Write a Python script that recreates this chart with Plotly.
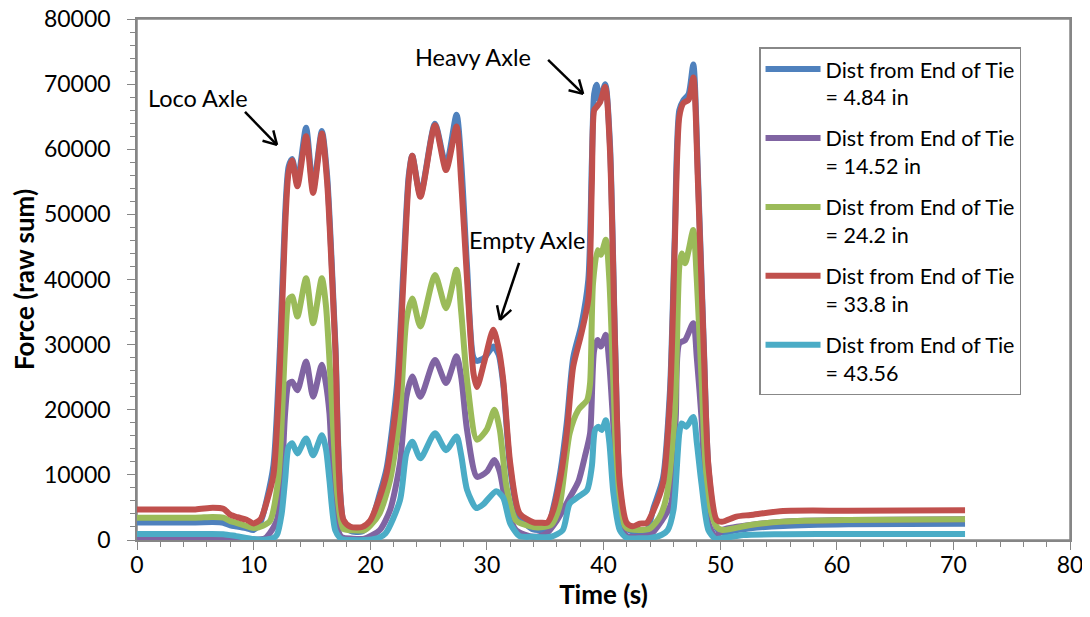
import math
import plotly.graph_objects as go

# ---------------- data ----------------
t_red = [0, 5, 6.5, 7.4, 8.0, 8.6, 9.4, 10.0, 10.6, 11.1, 11.7, 12.26, 12.7, 13.0, 13.3, 13.75,
         14.5, 15.1, 15.85, 16.3, 17.0, 17.7, 18.3, 19.3, 20.0, 20.8, 21.4, 22.3, 22.85, 23.3,
         23.6, 24.3, 25.55, 26.5, 27.4, 27.8, 28.3, 28.85, 29.15, 29.8, 30.55, 31.0, 31.4, 32.0,
         32.8, 34.0, 34.6, 35.2, 35.7, 36.3, 36.85, 37.4, 38.1, 38.7, 39.0, 39.2, 39.4, 39.7,
         40.15, 40.55, 41.0, 41.4, 42.0, 42.5, 43.1, 43.7, 44.3, 45.1, 45.7, 46.1, 46.5, 46.85,
         47.3, 47.7, 48.1, 48.6, 49.0, 49.7, 50.15, 51.4, 52.6, 55.4, 61, 71]
v_red = [4700, 4700, 4950, 4800, 3900, 3500, 3100, 2550, 3200, 5700, 10000, 27000, 48000, 56500,
         58300, 54300, 62000, 53300, 62400, 55000, 29700, 3100, 2050, 2000, 3000, 6500, 10200,
         22000, 40000, 55300, 59000, 52700, 63700, 56800, 63500, 55000, 40000, 25600, 23500,
         27500, 32300, 29500, 24600, 11800, 4100, 2700, 2650, 2700, 4600, 9500, 16400, 26600,
         31700, 37000, 54800, 66000, 66500, 67200, 69600, 60000, 29200, 8700, 2600, 2100, 2500,
         2600, 4600, 8700, 21500, 44500, 65000, 67100, 67600, 71000, 54800, 29200, 11300, 3100,
         2800, 3600, 3850, 4450, 4500, 4550]

t_blue = t_red
v_blue = [2700, 2700, 2750, 2650, 2250, 2050, 1800, 1540, 2800, 6000, 11500, 29700, 50000, 57300,
          58500, 55000, 63300, 54000, 62800, 56000, 30500, 2800, 1400, 1300, 2500, 7000, 11000,
          24000, 42000, 56000, 59000, 53000, 63900, 57500, 65300, 58000, 42000, 28000, 27500,
          28000, 29700, 28500, 24000, 11000, 3500, 1600, 1540, 1800, 5000, 10500, 18000, 28000,
          33000, 40000, 58000, 68500, 69900, 67500, 70000, 61000, 30000, 8000, 1800, 1300, 1230,
          1400, 5000, 9500, 23000, 46000, 66000, 67500, 68500, 73000, 56000, 30000, 11000, 1800,
          1130, 1500, 1800, 2150, 2400, 2500]

t_green = [0, 5, 6.5, 7.4, 8.0, 8.6, 10.0, 10.8, 11.4, 12.1, 12.7, 13.0, 13.3, 13.75, 14.5, 15.1,
           15.85, 16.2, 16.6, 17.2, 17.7, 18.5, 19.5, 20.0, 20.8, 21.7, 22.55, 23.1, 23.6, 24.3,
           25.55, 26.5, 27.4, 27.8, 28.3, 29.15, 30.0, 30.65, 31.1, 31.7, 32.5, 34.0, 34.6, 35.5,
           36.2, 37.1, 37.85, 38.6, 38.85, 39.1, 39.5, 39.77, 40.2, 40.5, 40.85, 41.4, 42.0, 43.0,
           44.0, 44.8, 45.4, 46.1, 46.5, 46.7, 47.0, 47.3, 47.7, 48.0, 48.4, 49.0, 49.7, 50.2,
           52.6, 55.4, 61, 71]
v_green = [3430, 3430, 3550, 3450, 2900, 2600, 1850, 2200, 2900, 9200, 29700, 36900, 37400, 34300,
           40200, 33300, 40200, 36000, 24600, 6650, 1700, 1500, 1500, 2200, 4100, 9200, 19500,
           33800, 37100, 32800, 40700, 35600, 41500, 35000, 24600, 15400, 17000, 20000, 17000,
           8000, 3000, 2000, 1950, 2300, 5000, 16400, 20000, 21500, 24100, 39400, 44500, 43800,
           46100, 40000, 24100, 4600, 1800, 1540, 1800, 3500, 6650, 18900, 42000, 44000, 42500,
           44500, 47600, 40000, 25000, 6100, 2000, 1540, 2300, 2820, 3070, 3200]

t_purple = [0, 7.4, 8.5, 10, 11.0, 11.4, 12.0, 12.4, 12.7, 13.0, 13.3, 13.75, 14.5, 15.1, 15.85,
            16.2, 16.5, 17.0, 17.5, 18.5, 19.5, 20.8, 21.7, 22.55, 23.1, 23.6, 24.3, 25.55, 26.5,
            27.4, 27.8, 28.3, 29.15, 30.0, 30.65, 31.1, 31.7, 32.5, 34.0, 35.1, 36.0, 37.1,
            37.85, 38.4, 38.85, 39.2, 39.5, 39.77, 40.2, 40.5, 40.8, 41.4, 42.0, 43.0, 44.0,
            45.0, 45.8, 46.2, 46.5, 47.0, 47.7, 48.0, 48.4, 49.0, 49.6, 50.2, 52.6, 55.4, 61, 71]
v_purple = [260, 260, 200, 50, 300, 1070, 3070, 9000, 19500, 24000, 24300, 23000, 27400, 22000,
            26900, 24000, 19500, 4100, 500, 200, 200, 1500, 4600, 11800, 22000, 25100, 22000,
            27650, 24100, 28200, 25000, 16900, 9700, 10500, 12300, 10500, 5000, 1500, 500, 1000,
            3000, 6500, 9000, 12800, 16400, 29200, 30700, 29700, 31500, 27000, 18900, 2600, 600,
            500, 800, 3000, 5600, 18900, 30200, 30700, 33300, 28000, 18900, 2600, 500, 1540,
            2300, 2820, 3070, 3200]

t_cyan = [0, 5, 7.4, 8.5, 10.0, 10.8, 11.7, 12.0, 12.4, 12.7, 13.0, 13.3, 13.75, 14.5, 15.1,
          15.85, 16.2, 16.5, 17.0, 17.5, 18.5, 19.5, 20.5, 21.3, 22.55, 23.1, 23.6, 24.3, 25.55,
          26.5, 27.4, 27.8, 28.3, 29.1, 29.7, 30.8, 31.4, 32.0, 32.8, 34.0, 35.5, 36.5, 37.1,
          37.85, 38.6, 39.0, 39.28, 39.57, 39.85, 40.2, 40.5, 40.85, 41.4, 42.0, 43.0, 44.0,
          45.0, 45.5, 46.0, 46.5, 46.7, 47.1, 47.7, 48.0, 48.4, 49.0, 49.6, 50.2, 52.0, 55.4,
          61, 71]
v_cyan = [920, 920, 900, 600, 150, 50, 300, 800, 4000, 9200, 14300, 14850, 13300, 15600, 13000,
          16100, 14000, 9200, 1500, 200, 0, 0, 200, 1000, 6100, 13300, 15100, 12550, 16400, 13800,
          15900, 13000, 7700, 4900, 5500, 7500, 6500, 2560, 600, 500, 500, 1500, 5600, 6650, 7700,
          11300, 16900, 17400, 16900, 18400, 15000, 7200, 1500, 300, 260, 300, 800, 1500, 4600,
          16400, 17900, 17400, 18900, 15000, 8700, 1500, 200, 260, 770, 880, 920, 920]

series_names = ["Dist from End of Tie<br>= 4.84 in", "Dist from End of Tie<br>= 14.52 in",
                "Dist from End of Tie<br>= 24.2 in", "Dist from End of Tie<br>= 33.8 in",
                "Dist from End of Tie<br>= 43.56"]
series_t = [t_blue, t_purple, t_green, t_red, t_cyan]
series_v = [v_blue, v_purple, v_green, v_red, v_cyan]
colors = ["#4F81BD", "#8064A2", "#9BBB59", "#C0504D", "#4BACC6"]

# callout texts (text, x, y) and arrows (tail_x, tail_y, head_x, head_y), data units
labels = [("Loco Axle", 5.23, 67900), ("Heavy Axle", 28.77, 74190), ("Empty Axle", 33.45, 46080)]
arrows = [(9.26, 65740, 12.0, 60670), (35.25, 73730, 38.25, 68500), (32.76, 42550, 31.13, 33800)]

FONT = "Lato"
X_RANGE = [0, 80]
Y_RANGE = [0, 80000]
# the page body adds an 8px offset, margins compensate for it
ML, MR, MT, MB = 129, 28, 11, 85
W, H = 1090, 617
px_per_x = (W - ML - MR) / (X_RANGE[1] - X_RANGE[0])
px_per_y = (H - MT - MB) / (Y_RANGE[1] - Y_RANGE[0])

fig = go.Figure()
for name, t, v, c in zip(series_names, series_t, series_v, colors):
    fig.add_trace(go.Scatter(x=t, y=v, mode="lines", name=name, legendgroup=name,
                             line=dict(color=c, width=6, shape="spline", smoothing=0.7)))

for txt, x, y in labels:
    fig.add_annotation(x=x, y=y, text=txt, showarrow=False,
                       font=dict(family=FONT, size=23.5, color="#000"))

# arrows drawn as a shaft plus an open V head
head_len = 15
for tx, ty, hx, hy in arrows:
    fig.add_shape(type="line", x0=tx, y0=ty, x1=hx, y1=hy, xref="x", yref="y",
                  line=dict(color="#000", width=2.5))
    dxp = (hx - tx) * px_per_x
    dyp = (hy - ty) * px_per_y
    ang = math.atan2(dyp, dxp)
    for s in (-1, 1):
        a = ang + math.pi + s * math.radians(30)
        ex = hx + head_len * math.cos(a) / px_per_x
        ey = hy + head_len * math.sin(a) / px_per_y
        fig.add_shape(type="line", x0=hx, y0=hy, x1=ex, y1=ey, xref="x", yref="y",
                      line=dict(color="#000", width=2.5))

# plot-area frame
fig.add_shape(type="rect", xref="paper", yref="paper", x0=0, y0=0, x1=1, y1=1,
              line=dict(color="#868686", width=1.5), fillcolor="rgba(0,0,0,0)", layer="below")

axis_common = dict(showgrid=False, zeroline=False, showline=True, linecolor="#868686",
                   linewidth=1.5, mirror=True, ticks="outside", ticklen=8, tickwidth=1.3,
                   tickcolor="#868686", automargin=False, ticklabeloverflow="allow",
                   tickfont=dict(family=FONT, size=23, color="#000"))
fig.update_xaxes(range=X_RANGE, dtick=10, tick0=0,
                 minor=dict(dtick=2, ticks="outside", ticklen=5, tickcolor="#868686"),
                 title=dict(text="<b>Time (s)</b>", font=dict(family=FONT, size=26, color="#000"),
                            standoff=0),
                 ticklabelstandoff=-4,
                 **axis_common)
fig.update_yaxes(range=Y_RANGE, dtick=10000, tick0=0, tickformat="d",
                 minor=dict(dtick=2000, ticks="outside", ticklen=5, tickcolor="#868686"),
                 title=dict(text="<b>Force (raw sum)</b>", font=dict(family=FONT, size=26, color="#000"),
                            standoff=12),
                 ticklabelstandoff=12,
                 **axis_common)

fig.update_layout(
    width=W, height=H,
    margin=dict(l=ML, r=MR, t=MT, b=MB),
    plot_bgcolor="white", paper_bgcolor="white",
    font=dict(family=FONT, color="#000"),
    legend=dict(x=0.6667, y=0.946, xanchor="left", yanchor="top",
                bgcolor="white", bordercolor="#888888", borderwidth=1.5,
                font=dict(family=FONT, size=21.5, color="#000"),
                itemwidth=55, valign="top", tracegroupgap=10),
    showlegend=True,
)

fig.write_html("out.html")
